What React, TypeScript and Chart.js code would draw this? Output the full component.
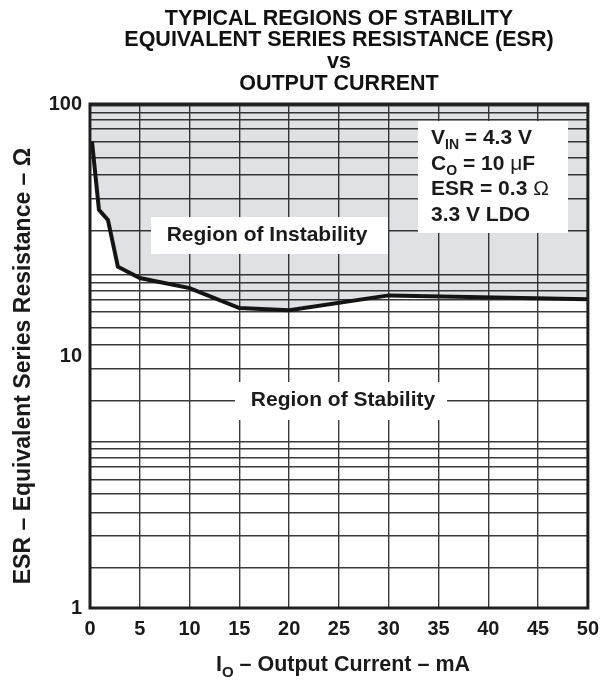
import React, { useEffect, useRef } from 'react';
import { Chart, registerables } from 'chart.js';

Chart.register(...registerables);

// ---- data ----
const currentMA = [0.2, 0.9, 1.8, 2.8, 5, 10, 15, 20, 30, 50];
const esrOhm = [71, 38, 34.7, 22.6, 20.4, 18.6, 15.5, 15.2, 17.4, 16.8];

const xTickValues = [0, 5, 10, 15, 20, 25, 30, 35, 40, 45, 50];
const yLabelValues = [1, 10, 100];
const yGridValues = [
  1.44, 1.94, 2.39, 2.83, 3.24, 3.64, 3.96, 4.29, 4.57, 6.65, 8.88,
  11.06, 12.9, 15.0, 16.7, 18.2, 19.6, 20.96, 31.5, 42.0, 52.3, 61.2, 70.8, 80.1, 86.6, 92.7, 98.2,
];

const titleLines = [
  'TYPICAL REGIONS OF STABILITY',
  'EQUIVALENT SERIES RESISTANCE (ESR)',
  'vs',
  'OUTPUT CURRENT',
];
const yTitle = 'ESR – Equivalent Series Resistance – Ω';
const instabilityLabel = 'Region of Instability';
const stabilityLabel = 'Region of Stability';

type Seg = { t: string; sub?: boolean; normal?: boolean };
const xTitleSegs: Seg[] = [{ t: 'I' }, { t: 'O', sub: true }, { t: ' – Output Current – mA' }];
const conditionLines: Seg[][] = [
  [{ t: 'V' }, { t: 'IN', sub: true }, { t: ' = 4.3 V' }],
  [{ t: 'C' }, { t: 'O', sub: true }, { t: ' = 10 ' }, { t: 'μ', normal: true }, { t: 'F' }],
  [{ t: 'ESR = 0.3 ' }, { t: 'Ω', normal: true }],
  [{ t: '3.3 V LDO' }],
];

const FAMILY = '"Liberation Sans", Arial, Helvetica, sans-serif';
const TEXT = '#1a1a1a';
const GRID = '#3a3a3a';

function segFont(s: Seg, size: number) {
  const sz = s.sub ? Math.round(size * 0.68) : size;
  return `${s.normal ? 'normal' : 'bold'} ${sz}px ${FAMILY}`;
}

function drawSegs(ctx: CanvasRenderingContext2D, segs: Seg[], x: number, y: number, size: number, align: 'left' | 'center') {
  const widths = segs.map((s) => {
    ctx.font = segFont(s, size);
    return ctx.measureText(s.t).width;
  });
  const total = widths.reduce((a, b) => a + b, 0);
  let cx = align === 'center' ? x - total / 2 : x;
  ctx.textAlign = 'left';
  ctx.textBaseline = 'alphabetic';
  segs.forEach((s, i) => {
    ctx.font = segFont(s, size);
    ctx.fillText(s.t, cx, s.sub ? y + size * 0.26 : y);
    cx += widths[i];
  });
}

const overlayPlugin = {
  id: 'overlay',
  afterDatasetsDraw(chart: any) {
    const ctx: CanvasRenderingContext2D = chart.ctx;
    const { left, right, top, bottom } = chart.chartArea;
    ctx.save();

    // Region of Instability box
    ctx.fillStyle = '#ffffff';
    ctx.fillRect(151, 217, 237, 37);
    ctx.fillStyle = TEXT;
    ctx.font = `bold 21px ${FAMILY}`;
    ctx.textAlign = 'center';
    ctx.textBaseline = 'alphabetic';
    ctx.fillText(instabilityLabel, 267, 241);

    // Region of Stability box
    ctx.fillStyle = '#ffffff';
    ctx.fillRect(235, 382, 212, 38);
    ctx.fillStyle = TEXT;
    ctx.fillText(stabilityLabel, 343, 406);

    // Conditions box
    ctx.fillStyle = '#ffffff';
    ctx.fillRect(418, 121, 150, 112);
    ctx.fillStyle = TEXT;
    conditionLines.forEach((line, i) => {
      drawSegs(ctx, line, 431, 144 + i * 25.7, 21, 'left');
    });

    // Frame
    ctx.strokeStyle = '#1e1e1e';
    ctx.lineWidth = 3;
    ctx.strokeRect(left, top, right - left, bottom - top);

    // Title
    ctx.fillStyle = '#111111';
    ctx.font = `bold 21.5px ${FAMILY}`;
    ctx.textAlign = 'center';
    const cx = (left + right) / 2;
    const baselines = [25, 46, 67.5, 90];
    titleLines.forEach((t, i) => ctx.fillText(t, cx, baselines[i]));

    // X title
    ctx.fillStyle = TEXT;
    drawSegs(ctx, xTitleSegs, 343, 671, 21.5, 'center');

    // Y title
    ctx.save();
    ctx.translate(30, 366);
    ctx.rotate(-Math.PI / 2);
    ctx.font = `bold 23px ${FAMILY}`;
    ctx.textAlign = 'center';
    ctx.textBaseline = 'alphabetic';
    ctx.fillText(yTitle, 0, 0);
    ctx.restore();

    ctx.restore();
  },
};

export default function App() {
  const ref = useRef<HTMLCanvasElement | null>(null);

  useEffect(() => {
    document.body.style.margin = '0';
    const canvas = ref.current;
    if (!canvas) return;
    const points = currentMA.map((x, i) => ({ x, y: esrOhm[i] }));
    const allY = Array.from(new Set([...yGridValues, ...yLabelValues])).sort((a, b) => a - b);

    const chart = new Chart(canvas, {
      type: 'line',
      data: {
        datasets: [
          {
            data: points,
            borderColor: '#141414',
            borderWidth: 4,
            pointRadius: 0,
            tension: 0,
            fill: 'end',
            backgroundColor: 'rgba(0,10,30,0.12)',
          },
        ],
      },
      options: {
        animation: false,
        responsive: false,
        devicePixelRatio: 1,
        layout: { padding: { top: 104, right: 15, left: 0, bottom: 0 } },
        plugins: {
          legend: { display: false },
          tooltip: { enabled: false },
          title: { display: false },
        },
        scales: {
          x: {
            type: 'linear',
            min: 0,
            max: 50,
            afterBuildTicks: (scale: any) => {
              scale.ticks = xTickValues.map((v) => ({ value: v }));
            },
            afterFit: (scale: any) => {
              scale.height = 75;
            },
            grid: { color: GRID, lineWidth: 1.4, drawTicks: false },
            border: { display: false },
            ticks: {
              autoSkip: false,
              maxRotation: 0,
              padding: 9,
              color: TEXT,
              font: { family: FAMILY, size: 20, weight: 'bold' },
              callback: (v: any) => String(v),
            },
          },
          y: {
            type: 'logarithmic',
            min: 1,
            max: 100,
            afterBuildTicks: (scale: any) => {
              scale.ticks = allY.map((v) => ({ value: v }));
            },
            afterFit: (scale: any) => {
              scale.width = 90;
            },
            grid: {
              drawTicks: false,
              lineWidth: 1.4,
              color: (c: any) => (c.tick && c.tick.value === 10 ? 'rgba(0,0,0,0)' : GRID),
            },
            border: { display: false },
            ticks: {
              autoSkip: false,
              padding: 8,
              color: TEXT,
              font: { family: FAMILY, size: 20, weight: 'bold' },
              callback: (v: any) => (yLabelValues.includes(Number(v)) ? String(v) : ''),
            },
          },
        },
      },
      plugins: [overlayPlugin],
    });
    return () => chart.destroy();
  }, []);

  return (
    <div style={{ width: 608, height: 683 }}>
      <canvas ref={ref} width={608} height={683} style={{ display: 'block' }} />
    </div>
  );
}
